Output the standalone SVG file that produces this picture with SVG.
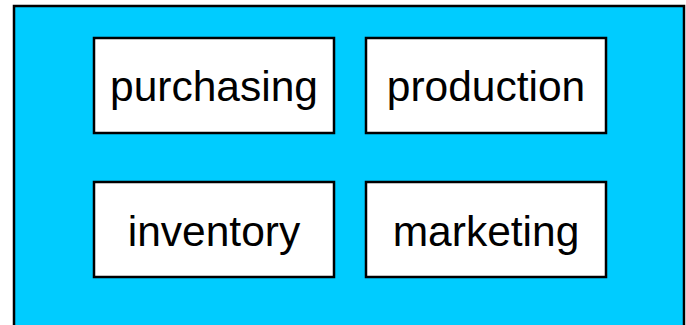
<svg xmlns="http://www.w3.org/2000/svg" width="686" height="325" viewBox="0 0 686 325">
<style>
.box{fill:#ffffff;stroke:#000000;stroke-width:2.5}
.lbl{font-family:"Liberation Sans",Arial,sans-serif;font-size:42.5px;fill:#000000;text-anchor:middle}
</style>
<rect x="0" y="0" width="686" height="325" fill="#ffffff"/>
<rect x="14" y="6" width="670" height="340" fill="#00ccff" stroke="#000000" stroke-width="2.5"/>
<g id="connectors"></g>
<g id="purchasing"><rect class="box" x="94" y="38" width="240" height="95"/><text class="lbl" x="214" y="101">purchasing</text></g>
<g id="production"><rect class="box" x="366" y="38" width="240" height="95"/><text class="lbl" x="486" y="101">production</text></g>
<g id="inventory"><rect class="box" x="94" y="182" width="240" height="95"/><text class="lbl" x="214" y="246">inventory</text></g>
<g id="marketing"><rect class="box" x="366" y="182" width="240" height="95"/><text class="lbl" x="486" y="246">marketing</text></g>
</svg>
